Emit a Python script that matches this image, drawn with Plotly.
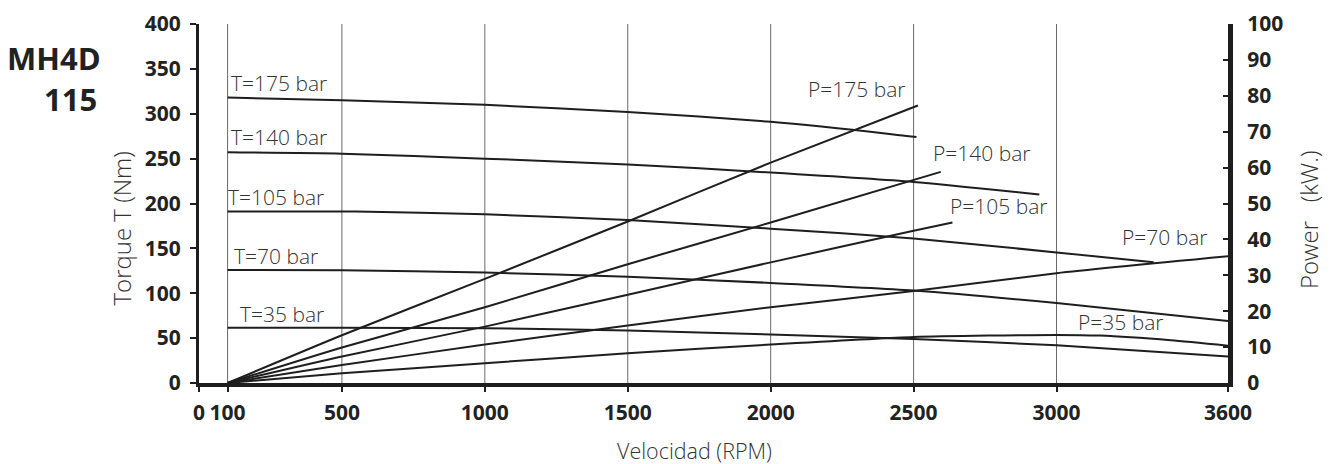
import plotly.graph_objects as go

# ---------------- data ----------------
# Torque curves (Nm, left axis)
t175_rpm = [100, 500, 1000, 1500, 2000, 2430, 2510]
t175_nm = [318, 315, 310, 302, 291, 277, 274]
t140_rpm = [100, 500, 1000, 1500, 2000, 2500, 2940]
t140_nm = [257, 255.5, 250, 243.5, 234.5, 224, 210]
t105_rpm = [100, 550, 1000, 1500, 2000, 2500, 3000, 3340]
t105_nm = [191, 191, 188, 181.5, 172, 161, 145.5, 134.5]
t70_rpm = [100, 500, 1000, 1500, 2000, 2500, 3000, 3600]
t70_nm = [126, 125.5, 123, 118.5, 111.5, 103, 89, 69]
t35_rpm = [100, 500, 1000, 1500, 2000, 2500, 3000, 3600]
t35_nm = [61.5, 61.5, 61, 58.5, 54, 49, 42, 29.5]

# Power curves (kW, right axis)
p175_rpm = [100, 500, 1000, 1500, 2000, 2515]
p175_kw = [0, 13.3, 29, 45, 61.4, 77.3]
p140_rpm = [100, 500, 1000, 1500, 2000, 2595]
p140_kw = [0, 9.9, 21.1, 33.1, 44.7, 58.8]
p105_rpm = [100, 500, 1000, 1500, 2000, 2500, 2636]
p105_kw = [0, 7.4, 15.7, 24.6, 33.6, 42.4, 44.7]
p70_rpm = [100, 500, 1000, 1500, 2000, 2500, 3000, 3600]
p70_kw = [0, 5.0, 10.7, 16, 21.1, 25.6, 30.6, 35.3]
p35_rpm = [100, 500, 1000, 1500, 2000, 2500, 3000, 3150, 3400, 3600]
p35_kw = [0, 2.7, 5.5, 8.3, 10.7, 12.8, 13.4, 13.2, 11.9, 10.4]

# Curve labels
t_labels = ["T=175 bar", "T=140 bar", "T=105 bar", "T=70 bar", "T=35 bar"]
t_label_rpm = [105, 105, 95, 115, 135]
t_label_nm = [334, 274, 207, 142, 77]
p_labels = ["P=175 bar", "P=140 bar", "P=105 bar", "P=70 bar", "P=35 bar"]
p_label_rpm = [2122, 2562, 2622, 3221, 3068]
p_label_kw = [81.9, 64.2, 49.3, 40.8, 17.1]

x_tickvals = [0, 100, 500, 1000, 1500, 2000, 2500, 3000, 3600]
x_ticktext = ["0", "100", "500", "1000", "1500", "2000", "2500", "3000", "3600"]
x_gridvals = [100, 500, 1000, 1500, 2000, 2500, 3000]
y_left_ticks = [0, 50, 100, 150, 200, 250, 300, 350, 400]
y_right_ticks = [0, 10, 20, 30, 40, 50, 60, 70, 80, 90, 100]

title_lines = ["MH4D", "115"]
y_left_title = "Torque T (Nm)"
y_right_title = "Power   (kW.)"
x_title = "Velocidad (RPM)"

# ---------------- layout geometry ----------------
W, H = 1335, 464
OFF = 8  # page body margin
L, T = 199 - OFF, 24 - OFF
PR, PB = 1228 - OFF, 383 - OFF
R, B = W - PR, H - PB
PW, PH = PR - L, PB - T

def px_x(px):
    return (px - OFF - L) / PW

def px_y(py):
    return (PB - (py - OFF)) / PH

LINE = "#1e1e1e"
TEXT = "#333333"
FONT = "Open Sans"

fig = go.Figure()

# vertical grid lines
for gx in x_gridvals:
    fig.add_shape(type="line", xref="x", yref="paper", x0=gx, x1=gx, y0=0, y1=1,
                  line=dict(color="#6a6a6a", width=1), layer="below")

for xs, ys in [(t175_rpm, t175_nm), (t140_rpm, t140_nm), (t105_rpm, t105_nm),
               (t70_rpm, t70_nm), (t35_rpm, t35_nm)]:
    fig.add_trace(go.Scatter(x=xs, y=ys, mode="lines",
                             line=dict(color=LINE, width=2, shape="spline", smoothing=0.6),
                             showlegend=False, hoverinfo="skip"))

for xs, ys in [(p175_rpm, p175_kw), (p140_rpm, p140_kw), (p105_rpm, p105_kw),
               (p70_rpm, p70_kw), (p35_rpm, p35_kw)]:
    fig.add_trace(go.Scatter(x=xs, y=ys, mode="lines", yaxis="y2",
                             line=dict(color=LINE, width=2, shape="spline", smoothing=0.6),
                             showlegend=False, hoverinfo="skip"))

anns = []
lblfont = dict(family=FONT, size=21, color=TEXT, weight=300)
for txt, xv, yv in zip(t_labels, t_label_rpm, t_label_nm):
    anns.append(dict(text=txt, x=xv, y=yv, xref="x", yref="y", xanchor="left", yanchor="middle",
                     showarrow=False, font=lblfont))
for txt, xv, yv in zip(p_labels, p_label_rpm, p_label_kw):
    anns.append(dict(text=txt, x=xv, y=yv, xref="x", yref="y2", xanchor="left", yanchor="middle",
                     showarrow=False, font=lblfont))

# big title
titlefont = dict(family=FONT, size=31, color="#222222", weight="bold")
anns.append(dict(text=title_lines[0], x=px_x(103), y=px_y(57.5), xref="paper", yref="paper",
                 xanchor="right", yanchor="middle", showarrow=False, font=titlefont))
anns.append(dict(text=title_lines[1], x=px_x(99), y=px_y(99), xref="paper", yref="paper",
                 xanchor="right", yanchor="middle", showarrow=False, font=titlefont))
# axis titles
anns.append(dict(text=y_left_title, x=px_x(121), y=px_y(228.5), xref="paper", yref="paper",
                 xanchor="center", yanchor="middle", textangle=-90, showarrow=False,
                 font=dict(family=FONT, size=24, color=TEXT, weight=300)))
anns.append(dict(text=y_right_title, x=px_x(1308), y=px_y(220), xref="paper", yref="paper",
                 xanchor="center", yanchor="middle", textangle=-90, showarrow=False,
                 font=dict(family=FONT, size=24, color=TEXT, weight=300)))
anns.append(dict(text=x_title, x=px_x(694.7), y=px_y(450), xref="paper", yref="paper",
                 xanchor="center", yanchor="middle", showarrow=False, borderpad=0,
                 font=dict(family=FONT, size=21.5, color=TEXT, weight=300)))

tickfont = dict(family=FONT, size=21, color="#222222", weight="bold")

fig.update_layout(
    width=W, height=H,
    margin=dict(l=L, r=R, t=T, b=B, pad=0, autoexpand=False),
    paper_bgcolor="white", plot_bgcolor="white",
    showlegend=False,
    annotations=anns,
    xaxis=dict(range=[0, 3600], tickmode="array", tickvals=x_tickvals, ticktext=x_ticktext,
               showgrid=False, zeroline=False, showline=True, linecolor=LINE, linewidth=4,
               ticks="outside", ticklen=5, tickwidth=1.5, tickcolor=LINE, automargin=False,
               tickfont=tickfont, ticklabelstandoff=3),
    yaxis=dict(range=[0, 400], tickmode="array", tickvals=y_left_ticks,
               showgrid=False, zeroline=False, showline=True, linecolor=LINE, linewidth=3,
               ticks="outside", ticklen=6, tickwidth=1.5, tickcolor=LINE, automargin=False,
               tickfont=tickfont, ticklabelstandoff=5),
    yaxis2=dict(range=[0, 100], tickmode="array", tickvals=y_right_ticks, overlaying="y", side="right",
                showgrid=False, zeroline=False, showline=True, linecolor=LINE, linewidth=5,
                ticks="inside", ticklen=5, tickwidth=1.5, tickcolor=LINE, automargin=False,
                tickfont=tickfont, ticklabelstandoff=10),
)

fig.write_html("out.html")
